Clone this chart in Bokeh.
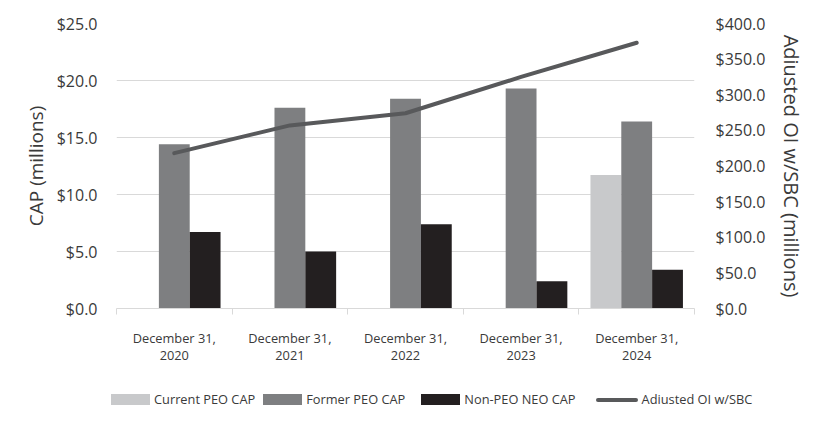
import numpy as np
from bokeh.plotting import figure
from bokeh.layouts import column
from bokeh.models import (Range1d, LinearAxis, FixedTicker, NumeralTickFormatter, Div)
from bokeh.embed import file_html
from bokeh.resources import INLINE

# ---- data ----
categories = ["December 31,\n2020", "December 31,\n2021", "December 31,\n2022",
              "December 31,\n2023", "December 31,\n2024"]
current_peo_cap = [None, None, None, None, 11.7]
former_peo_cap = [14.4, 17.6, 18.4, 19.3, 16.4]
non_peo_neo_cap = [6.7, 5.0, 7.4, 2.4, 3.4]
adjusted_oi = [218, 257, 274, 325, 373]
left_ticks = [0, 5, 10, 15, 20, 25]
right_ticks = [0, 50, 100, 150, 200, 250, 300, 350, 400]
series_names = ["Current PEO CAP", "Former PEO CAP", "Non-PEO NEO CAP", "Adiusted OI w/SBC"]

FONT = "Open Sans"
TXT = "#3a3a3a"
GRID = "#d9d9d9"
C_CUR, C_FOR, C_NON, C_LINE = "#c8c9cb", "#7e7f81", "#231f20", "#58595b"

n = len(categories)
centers = np.arange(n) + 0.5
bw = 0.8 / 3

def arr(v):
    return np.array([np.nan if x is None else x for x in v], dtype=float)

p = figure(width=808, height=370, output_backend="svg", toolbar_location=None,
           x_range=Range1d(0, n), y_range=Range1d(0, 25),
           min_border_left=116, min_border_right=110, min_border_top=23,
           min_border_bottom=62)
p.outline_line_color = None
p.background_fill_color = "white"
p.border_fill_color = "white"

p.extra_y_ranges = {"oi": Range1d(0, 400)}

p.vbar(x=centers - bw, top=arr(current_peo_cap), width=bw,
       fill_color=C_CUR, line_color=None)
p.vbar(x=centers, top=arr(former_peo_cap), width=bw,
       fill_color=C_FOR, line_color=None)
p.vbar(x=centers + bw, top=arr(non_peo_neo_cap), width=bw,
       fill_color=C_NON, line_color=None)
p.line(x=centers, y=adjusted_oi, y_range_name="oi", line_color=C_LINE,
       line_width=4, line_join="round", line_cap="round")

# x axis
xa = p.xaxis[0]
xa.ticker = FixedTicker(ticks=list(centers), minor_ticks=list(np.arange(n + 1)))
xa.major_label_overrides = {float(c): lab for c, lab in zip(centers, categories)}
xa.major_tick_line_color = None
xa.major_tick_out = 0
xa.major_tick_in = 0
xa.minor_tick_line_color = GRID
xa.minor_tick_out = 6
xa.minor_tick_in = 0
xa.axis_line_color = GRID
xa.major_label_standoff = 14
xa.major_label_text_font = FONT
xa.major_label_text_font_size = "12.8px"
xa.major_label_text_color = TXT
xa.major_label_text_line_height = 0.95

# left axis
ya = p.yaxis[0]
ya.ticker = FixedTicker(ticks=left_ticks)
ya.formatter = NumeralTickFormatter(format="$0.0")
ya.axis_line_color = None
ya.major_tick_line_color = None
ya.minor_tick_line_color = None
ya.major_label_standoff = 13
ya.major_label_text_font = FONT
ya.major_label_text_font_size = "16px"
ya.major_label_text_color = TXT
ya.axis_label = "CAP (millions)"
ya.axis_label_text_font = FONT
ya.axis_label_text_font_size = "19px"
ya.axis_label_text_font_style = "normal"
ya.axis_label_text_color = TXT
ya.axis_label_standoff = 5

# right axis
ra = LinearAxis(y_range_name="oi", ticker=FixedTicker(ticks=right_ticks),
                formatter=NumeralTickFormatter(format="$0.0"))
ra.axis_line_color = None
ra.major_tick_line_color = None
ra.minor_tick_line_color = None
ra.major_label_standoff = 15
ra.major_label_text_font = FONT
ra.major_label_text_font_size = "16px"
ra.major_label_text_color = TXT
ra.axis_label = "Adiusted OI w/SBC (millions)"
ra.axis_label_text_font = FONT
ra.axis_label_text_font_size = "20px"
ra.axis_label_text_font_style = "normal"
ra.axis_label_text_color = TXT
ra.axis_label_standoff = 10
p.add_layout(ra, "right")

p.xgrid.grid_line_color = None
p.ygrid.grid_line_color = GRID
p.ygrid.grid_line_width = 1

# ---- legend strip (HTML text) ----
swatches = [
    (C_CUR, 39, 11, 0, 8),
    (C_FOR, 39, 11, 0, 16),
    (C_NON, 39, 11, 0, 20),
    (C_LINE, 42, 4, 2, 0),
]
parts = []
for name, (col, w, h, rad, gap) in zip(series_names, swatches):
    parts.append(
        f'<span style="display:inline-block;white-space:nowrap;margin-right:{gap}px;">'
        f'<span style="display:inline-block;vertical-align:middle;width:{w}px;height:{h}px;'
        f'background:{col};border-radius:{rad}px;margin-right:4px;"></span>'
        f'<span style="vertical-align:middle;">{name}</span></span>'
    )
html = (f'<div style="padding-top:20px;padding-left:111px;font-family:\'{FONT}\';'
        f'font-size:12.8px;color:{TXT};line-height:17px;white-space:nowrap;">'
        + "".join(parts) + "</div>")
legend_div = Div(text=html, width=808, height=43, margin=0)

layout = column(p, legend_div, spacing=0)
open("out.html", "w").write(file_html(layout, INLINE))
